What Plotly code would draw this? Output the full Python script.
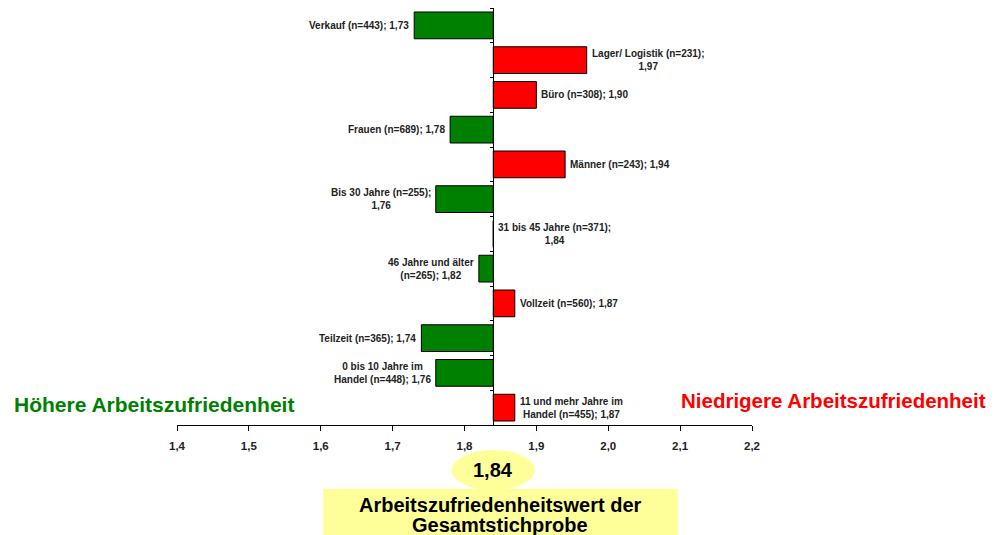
"""Horizontal deviation bars around the overall job satisfaction score."""
import plotly.graph_objects as go

# data
groups = ['Verkauf', 'Lager/ Logistik', 'Büro', 'Frauen', 'Männer',
          'Bis 30 Jahre', '31 bis 45 Jahre', '46 Jahre und älter',
          'Vollzeit', 'Teilzeit', '0 bis 10 Jahre im Handel',
          '11 und mehr Jahre im Handel']
labels = ['Verkauf (n=443); 1,73',
          'Lager/ Logistik (n=231);<br>1,97',
          'Büro (n=308); 1,90',
          'Frauen (n=689); 1,78',
          'Männer (n=243); 1,94',
          'Bis 30 Jahre (n=255);<br>1,76',
          '31 bis 45 Jahre (n=371);<br>1,84',
          '46 Jahre und älter<br>(n=265); 1,82',
          'Vollzeit (n=560); 1,87',
          'Teilzeit (n=365); 1,74',
          '0 bis 10 Jahre im<br>Handel (n=448); 1,76',
          '11 und mehr Jahre im<br>Handel (n=455); 1,87']
scores = [1.73, 1.97, 1.90, 1.78, 1.94, 1.76, 1.84, 1.82, 1.87, 1.74, 1.76, 1.87]
overall = 1.84
x_ticks = [1.4, 1.5, 1.6, 1.7, 1.8, 1.9, 2.0, 2.1, 2.2]

GREEN = '#008000'
RED = '#FF0000'
YELLOW = '#FFFF99'
FONT = 'Liberation Sans, Arial, sans-serif'

colors = [GREEN if s < overall else RED for s in scores]

fig = go.Figure(go.Bar(
    y=groups,
    x=[s - overall for s in scores],
    base=overall,
    orientation='h',
    marker=dict(color=colors, line=dict(color='black', width=1)),
    hoverinfo='skip',
))

# bar labels, placed beyond the end of each bar
annotations = []
for g, lab, s in zip(groups, labels, scores):
    left = s < overall
    annotations.append(dict(
        x=s, y=g, xref='x', yref='y', text=lab, showarrow=False,
        xanchor='right' if left else 'left', align='center',
        xshift=-3 if left else 3,
        font=dict(family=FONT, size=10, color='#222222', weight='bold'),
    ))

annotations += [
    dict(x=-0.287, y=0.05, xref='paper', yref='paper', xanchor='left',
         yanchor='middle', text='Höhere Arbeitszufriedenheit',
         showarrow=False,
         font=dict(family=FONT, size=21, color=GREEN, weight='bold')),
    dict(x=1.41, y=0.058, xref='paper', yref='paper', xanchor='right',
         yanchor='middle', text='Niedrigere Arbeitszufriedenheit',
         showarrow=False,
         font=dict(family=FONT, size=20.5, color=RED, weight='bold')),
    dict(x=overall, y=-0.108, xref='x', yref='paper', yanchor='middle',
         text='1,84', showarrow=False,
         font=dict(family=FONT, size=20, color='black', weight='bold')),
    # two separate lines to keep the tight line spacing of the original
    dict(x=0.5625, y=-0.192, xref='paper', yref='paper', yanchor='middle',
         text='Arbeitszufriedenheitswert der', showarrow=False, borderpad=0,
         font=dict(family=FONT, size=20, color='black', weight='bold')),
    dict(x=0.5625, y=-0.239, xref='paper', yref='paper', yanchor='middle',
         text='Gesamtstichprobe', showarrow=False, borderpad=0,
         font=dict(family=FONT, size=20, color='black', weight='bold')),
]

shapes = [
    dict(type='rect', xref='paper', yref='paper', x0=0.254, x1=0.871,
         y0=-0.3, y1=-0.153, fillcolor=YELLOW, line=dict(width=0),
         layer='below'),
    dict(type='circle', xref='x', yref='paper', x0=overall - 0.058,
         x1=overall + 0.058, y0=-0.156, y1=-0.06, fillcolor=YELLOW,
         line=dict(width=0), layer='below'),
]

fig.update_layout(
    width=994, height=535,
    margin=dict(l=169, r=250, t=0, b=118),
    paper_bgcolor='white', plot_bgcolor='white',
    separators=',.',
    showlegend=False,
    bargap=0.23,
    annotations=annotations,
    shapes=shapes,
    xaxis=dict(range=[1.4, 2.2], tickvals=x_ticks, tickformat='.1f',
               showgrid=False, zeroline=False, showline=True,
               linecolor='black', linewidth=1, ticks='outside', ticklen=5,
               tickcolor='black', ticklabelstandoff=5, automargin=False,
               tickfont=dict(family=FONT, size=11.5, color='#222222',
                             weight='bold')),
    yaxis=dict(autorange='reversed', showticklabels=False, showgrid=False,
               zeroline=False, showline=True, linecolor='black', linewidth=1,
               anchor='free', position=(overall - 1.4) / 0.8,
               ticks='outside', tickson='boundaries', ticklen=3,
               tickcolor='black', automargin=False),
)

fig.write_html("out.html")
